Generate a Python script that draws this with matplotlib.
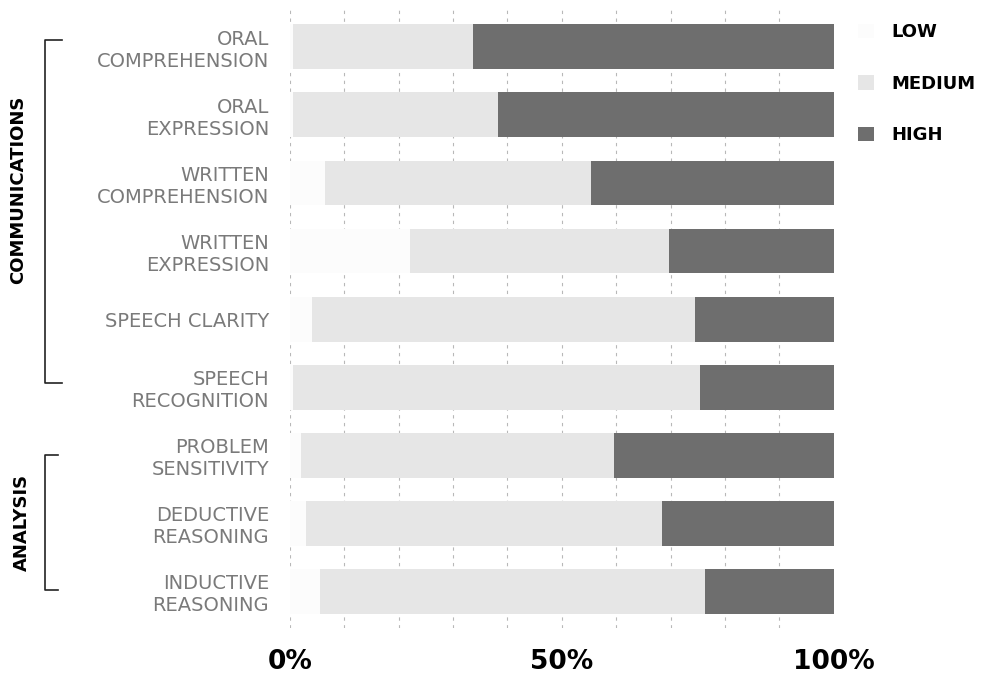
import numpy as np
import matplotlib.pyplot as plt
from matplotlib.lines import Line2D

# Skill ratings, share of respondents (%) per level
skills = ['ORAL\nCOMPREHENSION', 'ORAL\nEXPRESSION', 'WRITTEN\nCOMPREHENSION',
          'WRITTEN\nEXPRESSION', 'SPEECH CLARITY', 'SPEECH\nRECOGNITION',
          'PROBLEM\nSENSITIVITY', 'DEDUCTIVE\nREASONING', 'INDUCTIVE\nREASONING']
low = [0.5, 0.5, 6.5, 22.0, 4.0, 0.5, 2.0, 3.0, 5.5]
high = [66.4, 61.8, 44.7, 30.3, 25.6, 24.6, 40.4, 31.6, 23.7]
medium = [100 - l - h for l, h in zip(low, high)]

colors = {'LOW': '#fcfcfc', 'MEDIUM': '#e6e6e6', 'HIGH': '#6e6e6e'}

fig = plt.figure(figsize=(9.86, 6.77), dpi=100)
ax = fig.add_axes([0.294, 0.0724, 0.5517, 0.9126])

y = np.arange(len(skills))
left = np.zeros(len(skills))
bars = []
for name, vals in [('LOW', low), ('MEDIUM', medium), ('HIGH', high)]:
    b = ax.barh(y, vals, left=left, height=0.66, color=colors[name],
                label=name, zorder=2)
    bars.append(b)
    left += np.array(vals)

for xv in range(0, 100, 10):
    ax.axvline(xv, color='#b8b8b8', lw=0.8, ls=(0, (3, 4)), zorder=1)

ax.set_xlim(0, 100)
ax.set_ylim(len(skills) - 0.46, -0.54)
ax.set_yticks(y)
ax.set_yticklabels(skills, fontsize=14, color='#7a7a7a', linespacing=1.2,
                   ha='right')
ax.tick_params(axis='y', length=0, pad=15)
ax.set_xticks([0, 50, 100])
ax.set_xticklabels(['0%', '50%', '100%'], fontsize=19, fontweight='bold')
ax.tick_params(axis='x', length=0, pad=15)
for s in ax.spines.values():
    s.set_visible(False)

# Group brackets on the left
W, H = 986, 677
def fx(px):
    return px / W
def fy(py):
    return 1 - py / H

def bracket(top, bottom, tick_end):
    xs = [fx(tick_end), fx(45), fx(45), fx(tick_end)]
    ys = [fy(top), fy(top), fy(bottom), fy(bottom)]
    fig.add_artist(Line2D(xs, ys, color='#222222', lw=1.2))

bracket(40, 383, 62)
bracket(455, 590, 58)
fig.text(fx(18), fy(190), 'COMMUNICATIONS', rotation=90, ha='center',
         va='center', fontsize=13, fontweight='bold')
fig.text(fx(22), fy(522), 'ANALYSIS', rotation=90, ha='center',
         va='center', fontsize=13, fontweight='bold')

fig.legend(handles=bars, loc='upper left', bbox_to_anchor=(fx(842), fy(7)),
           frameon=False, handlelength=0.85, handleheight=0.85,
           handletextpad=1.0, labelspacing=1.85,
           prop={'size': 13, 'weight': 'bold'})

fig.savefig('out.png', dpi=100, facecolor='white')
